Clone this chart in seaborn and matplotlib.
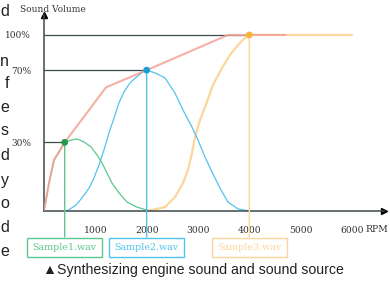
import numpy as np
import pandas as pd
import matplotlib
matplotlib.use("Agg")
import matplotlib.pyplot as plt
import seaborn as sns

# engine rpm -> volume (%)
engine_rpm = [0, 97, 195, 292, 403, 1210, 2000, 3585, 4700]
engine_vol = [0, 12.2, 22.3, 25.8, 30, 60.5, 70, 100, 100]

s1_rpm = [0, 97, 195, 292, 403, 526, 643, 779, 916, 1032, 1130, 1227, 1325,
          1461, 1617, 1812, 1987, 2050]
s1_vol = [0, 12.2, 22.3, 25.8, 30, 31.3, 31.9, 30.2, 28.0, 24.5, 21.0, 16.6,
          12.2, 7.9, 3.9, 1.7, 0.5, 0]

s2_rpm = [448, 623, 740, 877, 974, 1071, 1169, 1266, 1364, 1461, 1558, 1675,
          1773, 1900, 2000, 2162, 2357, 2552, 2708, 2883, 3000, 3136, 3273,
          3429, 3585, 3780, 4000]
s2_vol = [0, 2.6, 5.7, 10.0, 14.4, 20.1, 26.7, 35.2, 43.5, 51.9, 57.9, 62.9,
          65.5, 68.5, 70, 68.5, 65.7, 57.3, 47.9, 38.5, 31.3, 23.6, 17.0,
          10.0, 3.9, 0.9, 0]

s3_rpm = [2000, 2357, 2552, 2708, 2805, 2883, 2942, 3039, 3175, 3292, 3468,
          3624, 3780, 3916, 4000, 6000]
s3_vol = [0, 1.7, 6.1, 12.2, 17.9, 25.3, 32.9, 42.4, 52.4, 61.8, 72.0, 82.9,
          91.5, 97.5, 100, 100]

samples = ["Sample1.wav", "Sample2.wav", "Sample3.wav"]
sample_rpm = [403, 2000, 4000]
sample_vol = [30, 70, 100]

xticks = [1000, 2000, 3000, 4000, 5000, 6000]
yticks = [30, 70, 100]
ylabels = ["30%", "70%", "100%"]

caption = "\u25b2Synthesizing engine sound and sound source"
side_letters = ["d", "n", "f", "e", "s", "d", "y", "o", "d", "e"]
side_y = [12, 62, 84, 107, 131, 155, 180, 204, 228, 252]

# the drawing's vertical axis is not linear
vol_pts = [0, 30, 70, 100, 130]
draw_pts = [0, 39, 80, 100, 120]

green, green_dot = "#5ec78f", "#23994a"
blue, blue_dot = "#52c2ef", "#1b9dd8"
yellow, yellow_dot = "#fcd69b", "#f6b43a"
red = "#f5a295"
dark = "#3d4a4e"

sns.set_style("white")
fig = plt.figure(figsize=(3.9, 2.84), dpi=100)
ax = fig.add_axes([44 / 390, 73 / 284, 340 / 390, 196 / 284])
ax.set_yscale("function", functions=(lambda p: np.interp(p, vol_pts, draw_pts),
                                     lambda d: np.interp(d, draw_pts, vol_pts)))

# guide lines from the y axis to each sample point
for r, v in zip(sample_rpm, sample_vol):
    ax.plot([0, r], [v, v], color=dark, lw=0.9, zorder=1)

sns.lineplot(x=s3_rpm, y=s3_vol, color=yellow, lw=1.6, ax=ax, estimator=None, zorder=2)
sns.lineplot(x=s2_rpm, y=s2_vol, color=blue, lw=0.9, ax=ax, estimator=None, zorder=2)
sns.lineplot(x=s1_rpm, y=s1_vol, color=green, lw=0.9, ax=ax, estimator=None, zorder=2)
sns.lineplot(x=engine_rpm, y=engine_vol, color=red, lw=1.5, alpha=0.85, ax=ax,
             estimator=None, zorder=3)

pts = pd.DataFrame({"rpm": sample_rpm, "vol": sample_vol, "name": samples})
sns.scatterplot(data=pts, x="rpm", y="vol", hue="name",
                palette=[green_dot, blue_dot, yellow_dot], s=24, linewidth=0,
                legend=False, ax=ax, zorder=5)

for name, r, v, c in zip(samples, sample_rpm, sample_vol, [green, blue, yellow]):
    ax.annotate(name, xy=(r, v), xytext=(r, -0.185),
                textcoords=("data", "axes fraction"), ha="center", va="center",
                fontsize=6.8, family="DejaVu Serif", color=c,
                bbox=dict(boxstyle="square,pad=0.55", fc="white", ec=c, lw=1),
                arrowprops=dict(arrowstyle="-", color=c, lw=1, shrinkA=0, shrinkB=0),
                annotation_clip=False, zorder=4)

ax.set_xlim(0, 6624)
ax.set_ylim(0, 117)
ax.set_xticks(xticks)
ax.set_xticklabels([str(t) for t in xticks])
ax.set_yticks(yticks)
ax.set_yticklabels(ylabels)
ax.tick_params(axis="x", direction="out", length=7.2, width=0.9, color=dark,
               pad=3.5, labelsize=6.7, labelcolor="#333333")
ax.tick_params(axis="y", direction="out", length=7.9, width=0.9, color=dark,
               pad=1.5, labelsize=6.5, labelcolor="#333333")
ax.minorticks_off()
for lab in ax.get_xticklabels() + ax.get_yticklabels():
    lab.set_family("DejaVu Serif")

for side in ["top", "right"]:
    ax.spines[side].set_visible(False)
for side in ["left", "bottom"]:
    ax.spines[side].set_color(dark)
    ax.spines[side].set_linewidth(1.1)
ax.plot(1, 0, ">", color="black", ms=4, transform=ax.get_yaxis_transform(), clip_on=False)
ax.plot(0, 1, "^", color="black", ms=4, transform=ax.get_xaxis_transform(), clip_on=False)

ax.set_xlabel("")
ax.set_ylabel("")
ax.text(6273, -0.095, "RPM", transform=ax.get_xaxis_transform(), ha="left",
        va="center", fontsize=6.7, family="DejaVu Serif", color="#333333")
fig.text(53 / 390, 1 - 10 / 284, "Sound Volume", ha="center", va="center",
         fontsize=6.5, family="DejaVu Serif", color="#333333")

fig.text(43 / 390, 1 - 270 / 284, caption, ha="left", va="center", fontsize=10.2,
         family=["Liberation Sans", "DejaVu Sans"], color="#222222")
for ch, yy in zip(side_letters, side_y):
    fig.text(9 / 390, 1 - yy / 284, ch, ha="right", va="center", fontsize=11.5,
             family=["Liberation Sans", "DejaVu Sans"], color="#222222")

fig.savefig("out.png", dpi=100)
